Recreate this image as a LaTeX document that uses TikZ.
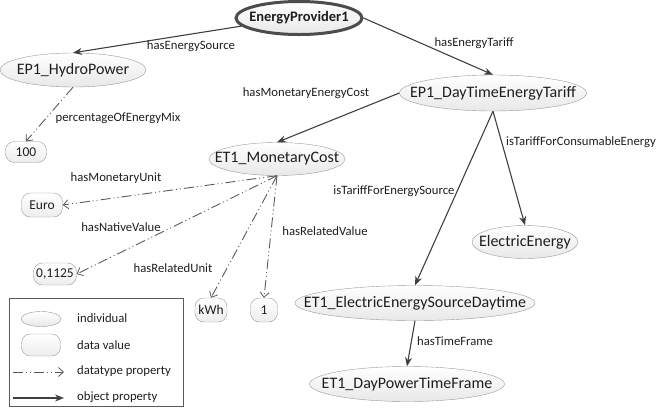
\documentclass[tikz,border=0pt]{standalone}
\usepackage{fontspec}
\setmainfont{Carlito}
\usetikzlibrary{arrows.meta, shapes.geometric, positioning}
\definecolor{edgegray}{HTML}{404040}
\definecolor{linegray}{HTML}{5A5A5A}
\definecolor{rimgray}{HTML}{9A9A9A}
\definecolor{textgray}{HTML}{1E1E1E}

\tikzset{
  indiv/.style={ellipse, draw=rimgray, top color=white, bottom color=black!9,
    inner xsep=-30pt, inner ysep=0pt, text=textgray, font=\fontsize{16}{18}\selectfont},
  provider/.style={indiv, draw=black!70, line width=3pt, font=\fontsize{14.5}{16}\selectfont\bfseries},
  dataval/.style={rectangle, rounded corners=9pt, draw=rimgray, top color=white, bottom color=black!7,
    inner sep=0pt, text=textgray, font=\fontsize{13.5}{15}\selectfont},
  lbl/.style={inner sep=1pt, text=textgray, font=\fontsize{12.7}{14}\selectfont},
  objprop/.style={draw=edgegray, line width=1.1pt, -{Stealth[length=9pt, width=7pt]}},
  dataprop/.style={draw=linegray, line width=0.9pt,
    dash pattern=on 10pt off 3pt on 1pt off 3pt on 1pt off 3pt,
    -{Straight Barb[length=5pt, width=9pt, line width=0.8pt]}}
}

\begin{document}
\begin{tikzpicture}[x=1pt, y=-1pt]
  \useasboundingbox (0,0) rectangle (659,408);

  \node[provider, minimum width=126, minimum height=33] (ep) at (299,18) {EnergyProvider1};
  \node[indiv, minimum width=146, minimum height=34] (hydro) at (73,70) {EP1\_HydroPower};
  \node[indiv, minimum width=187, minimum height=36] (tariff) at (493,93) {EP1\_DayTimeEnergyTariff};
  \node[indiv, minimum width=136, minimum height=33] (cost) at (277,159) {ET1\_MonetaryCost};
  \node[indiv, minimum width=106, minimum height=33] (elec) at (525,242) {ElectricEnergy};
  \node[indiv, minimum width=240, minimum height=35] (source) at (415,303) {ET1\_ElectricEnergySourceDaytime};
  \node[indiv, minimum width=195, minimum height=35] (frame) at (407,384) {ET1\_DayPowerTimeFrame};

  \node[dataval, minimum width=41, minimum height=21] (mix) at (26,152) {100};
  \node[dataval, minimum width=41, minimum height=24] (euro) at (42,205) {Euro};
  \node[dataval, minimum width=43, minimum height=22] (native) at (55,274) {0,1125};
  \node[dataval, minimum width=32, minimum height=24] (kwh) at (211,310) {kWh};
  \node[dataval, minimum width=27, minimum height=24] (one) at (264,310) {1};

  \draw[objprop] (ep.188) -- (hydro.north);
  \draw[objprop] (ep.east) -- (tariff.north);
  \draw[objprop] (tariff.west) -- (cost.north);
  \draw[objprop] (tariff.south) -- (elec.north);
  \draw[objprop] (tariff.south) -- (source.north);
  \draw[objprop] (source.south) -- (frame.north);

  \draw[dataprop] (hydro.south) -- (mix.north);
  \draw[dataprop] (cost.south) -- (euro.east);
  \draw[dataprop] (cost.south) -- (native.east);
  \draw[dataprop] (cost.south) -- (kwh.north);
  \draw[dataprop] (cost.south) -- (one.north);

  \node[lbl] (l-source) at (191,46) {hasEnergySource};
  \node[lbl] (l-tariff) at (474,43) {hasEnergyTariff};
  \node[lbl] (l-cost) at (306,93) {hasMonetaryEnergyCost};
  \node[lbl] (l-mix) at (118,118) {percentageOfEnergyMix};
  \node[lbl] (l-unit) at (116,178) {hasMonetaryUnit};
  \node[lbl] (l-native) at (121,227) {hasNativeValue};
  \node[lbl] (l-runit) at (173,268) {hasRelatedUnit};
  \node[lbl] (l-rvalue) at (325,231) {hasRelatedValue};
  \node[lbl] (l-consum) at (581,142) {isTariffForConsumableEnergy};
  \node[lbl] (l-esource) at (394,191) {isTariffForEnergySource};
  \node[lbl] (l-frame) at (455,341) {hasTimeFrame};

  \node[draw=linegray, line width=1.1pt, minimum width=174, minimum height=108, anchor=north west] (legend) at (9,298) {};
  \node[indiv, minimum width=40, minimum height=15] (k-indiv) at (41,319) {};
  \node[lbl, anchor=west] (t-indiv) at (76,318) {individual};
  \node[dataval, minimum width=39, minimum height=22] (k-data) at (41,345) {};
  \node[lbl, anchor=west] (t-data) at (76,345) {data value};
  \coordinate (k-dp1) at (13,372);
  \coordinate (k-dp2) at (64,372);
  \draw[dataprop] (k-dp1) -- (k-dp2);
  \node[lbl, anchor=west] (t-dp) at (76,371) {datatype property};
  \coordinate (k-op1) at (13,398);
  \coordinate (k-op2) at (64,398);
  \draw[objprop] (k-op1) -- (k-op2);
  \node[lbl, anchor=west] (t-op) at (76,397) {object property};
\end{tikzpicture}
\end{document}
